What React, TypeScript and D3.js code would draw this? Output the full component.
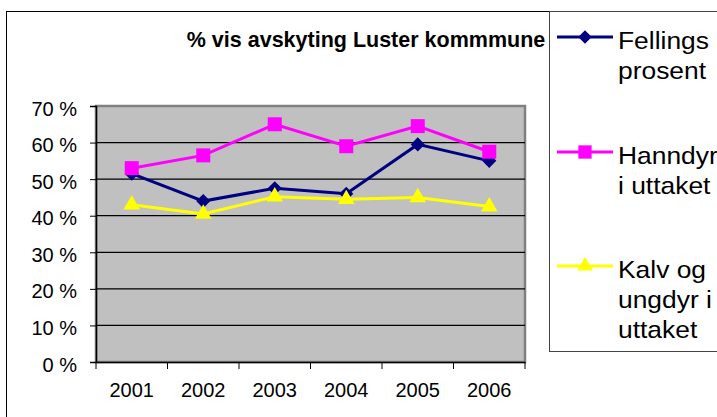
import React, { useEffect, useRef } from 'react';
import * as d3 from 'd3';

const years = ['2001', '2002', '2003', '2004', '2005', '2006'];
const fellingsprosent = [51.5, 44, 47.5, 46, 59.5, 55];
const hanndyrUttak = [53, 56.5, 65, 59, 64.5, 57.5];
const kalvUngdyrUttak = [43, 40.5, 45.2, 44.5, 45, 42.5];
const yTicks = [0, 10, 20, 30, 40, 50, 60, 70];
const legendLabels = [
  ['Fellings', 'prosent'],
  ['Hanndyr', 'i uttaket'],
  ['Kalv og', 'ungdyr i', 'uttaket'],
];

const App = () => {
  const svgRef = useRef<SVGSVGElement>(null);

  useEffect(() => {
    const width = 717;
    const height = 417;
    const plot = { left: 96, right: 525, top: 106, bottom: 362 };
    const font = '"Liberation Sans", Arial, sans-serif';

    d3.select(svgRef.current).selectAll('*').remove();
    const svg = d3.select(svgRef.current).attr('width', width).attr('height', height);

    svg.append('rect').attr('width', width).attr('height', height).attr('fill', '#fff');

    // outer chart frame
    svg
      .append('rect')
      .attr('x', 6.5)
      .attr('y', 11.5)
      .attr('width', 800)
      .attr('height', 500)
      .attr('fill', 'none')
      .attr('stroke', '#000');

    const x = d3.scaleBand().domain(years).range([plot.left, plot.right]);
    const y = d3.scaleLinear().domain([0, 70]).range([plot.bottom, plot.top]);

    // plot area
    svg
      .append('rect')
      .attr('x', plot.left)
      .attr('y', plot.top)
      .attr('width', plot.right - plot.left)
      .attr('height', plot.bottom - plot.top)
      .attr('fill', '#c0c0c0')
      .attr('stroke', '#808080')
      .attr('stroke-width', 2.5);

    // gridlines
    svg
      .selectAll('.grid')
      .data(yTicks.filter((t) => t > 0 && t < 70))
      .enter()
      .append('line')
      .attr('x1', plot.left)
      .attr('x2', plot.right)
      .attr('y1', (d) => y(d))
      .attr('y2', (d) => y(d))
      .attr('stroke', '#000')
      .attr('stroke-width', 1.2);

    // Y axis
    const yAxis = svg
      .append('g')
      .attr('transform', `translate(${plot.left},0)`)
      .call(d3.axisLeft(y).tickValues(yTicks).tickSize(6).tickPadding(13).tickFormat((d) => `${d} %`));
    yAxis.select('.domain').attr('stroke', '#000').attr('stroke-width', 1.5);
    yAxis.selectAll('line').attr('stroke', '#000');
    yAxis
      .selectAll('text')
      .attr('font-family', font)
      .attr('font-size', 20)
      .attr('fill', '#000')
      .attr('dy', '0.45em');

    // X axis
    const xAxis = svg
      .append('g')
      .attr('transform', `translate(0,${plot.bottom})`)
      .call(d3.axisBottom(x).tickSize(0).tickPadding(21));
    xAxis.select('.domain').attr('stroke', '#000').attr('stroke-width', 1.5);
    xAxis.selectAll('text').attr('font-family', font).attr('font-size', 20).attr('fill', '#000');
    svg
      .selectAll('.xtick')
      .data(years.concat(['end']))
      .enter()
      .append('line')
      .attr('x1', (d, i) => plot.left + i * x.bandwidth())
      .attr('x2', (d, i) => plot.left + i * x.bandwidth())
      .attr('y1', plot.bottom)
      .attr('y2', plot.bottom + 7)
      .attr('stroke', '#000');

    // title
    svg
      .append('text')
      .attr('x', 366)
      .attr('y', 47)
      .attr('text-anchor', 'middle')
      .attr('font-family', font)
      .attr('font-weight', 'bold')
      .attr('font-size', 21.5)
      .attr('fill', '#000')
      .text('% vis avskyting Luster kommmune');

    const series = [
      { values: fellingsprosent, color: '#000080', symbol: d3.symbolSquare, size: 100, rotate: 45 },
      { values: hanndyrUttak, color: '#ff00ff', symbol: d3.symbolSquare, size: 196, rotate: 0 },
      { values: kalvUngdyrUttak, color: '#ffff00', symbol: d3.symbolTriangle, size: 120, rotate: 0 },
    ];

    const line = d3
      .line<number>()
      .x((d, i) => (x(years[i]) as number) + x.bandwidth() / 2)
      .y((d) => y(d));

    series.forEach((s) => {
      svg
        .append('path')
        .datum(s.values)
        .attr('d', line)
        .attr('fill', 'none')
        .attr('stroke', s.color)
        .attr('stroke-width', 3);
      svg
        .selectAll(null)
        .data(s.values)
        .enter()
        .append('path')
        .attr('d', d3.symbol().type(s.symbol).size(s.size)())
        .attr(
          'transform',
          (d, i) => `translate(${(x(years[i]) as number) + x.bandwidth() / 2},${y(d)}) rotate(${s.rotate})`
        )
        .attr('fill', s.color);
    });

    // legend
    svg
      .append('rect')
      .attr('x', 549.5)
      .attr('y', 11.5)
      .attr('width', 300)
      .attr('height', 340)
      .attr('fill', '#fff')
      .attr('stroke', '#444');

    const legendY = [37, 152, 266];
    series.forEach((s, i) => {
      const g = svg.append('g').attr('transform', `translate(0,${legendY[i]})`);
      g.append('line')
        .attr('x1', 557)
        .attr('x2', 613)
        .attr('stroke', s.color)
        .attr('stroke-width', 3);
      g.append('path')
        .attr('d', d3.symbol().type(s.symbol).size(s.size * 0.9)())
        .attr('transform', `translate(585,0) rotate(${s.rotate})`)
        .attr('fill', s.color);
      legendLabels[i].forEach((t, j) => {
        g.append('text')
          .attr('transform', `translate(618,${12 + j * 30}) scale(1.1,1)`)
          .attr('font-family', font)
          .attr('font-size', 24)
          .attr('fill', '#000')
          .text(t);
      });
    });
  }, []);

  return (
    <div style={{ position: 'absolute', left: 0, top: 0 }}>
      <svg ref={svgRef} style={{ display: 'block' }}></svg>
    </div>
  );
};

export default App;
